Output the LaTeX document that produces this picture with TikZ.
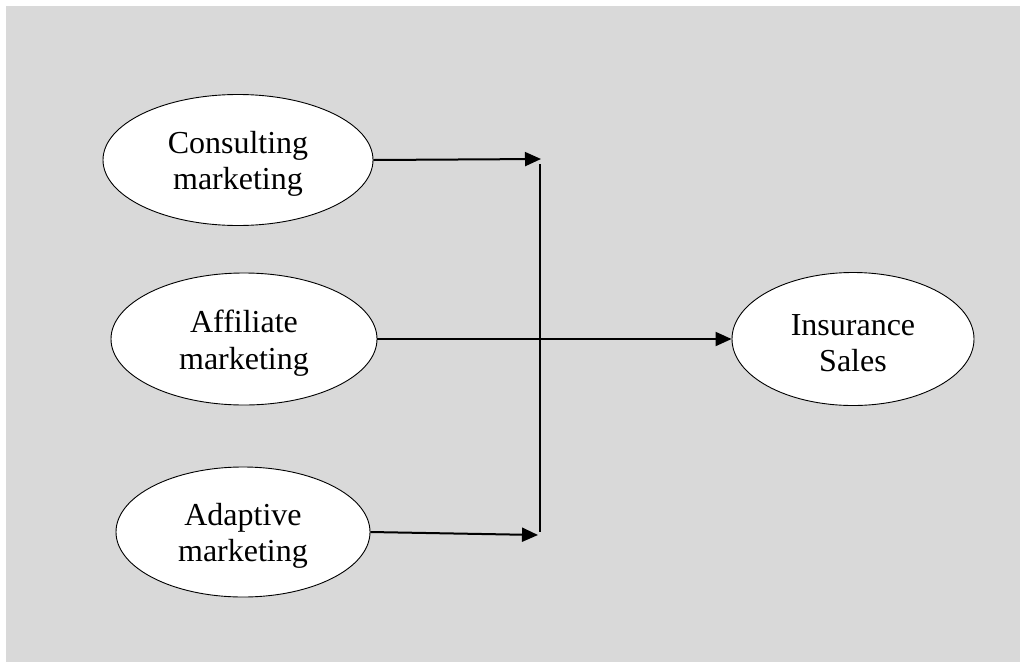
\documentclass[tikz,border=0pt]{standalone}
\usepackage{fontspec}
\setmainfont{Liberation Serif}
\usetikzlibrary{shapes.geometric,arrows.meta}
\definecolor{bggray}{RGB}{217,217,217}
\begin{document}
\begin{tikzpicture}[x=1pt,y=-1pt,
  oval/.style={ellipse,draw=black,line width=0.9pt,fill=white,inner sep=0pt},
  txt/.style={align=center,inner sep=0pt,font=\fontsize{32}{36.5}\selectfont},
  link/.style={line width=2pt,draw=black},
  arr/.style={link,-{Triangle[length=16pt,width=14pt]}}]
\useasboundingbox (0,0) rectangle (1020,662);
\fill[bggray] (6,6) rectangle (1020,662);
\node[oval,minimum width=270pt,minimum height=131pt] (cons) at (238,160) {};
\node[oval,minimum width=266pt,minimum height=132pt] (aff) at (244,339) {};
\node[oval,minimum width=254pt,minimum height=130pt] (adap) at (243,532) {};
\node[oval,minimum width=242pt,minimum height=133pt] (ins) at (853,339) {};
\node[txt] (cons-t) at ([yshift=-4pt]cons.center) {Consulting\\marketing};
\node[txt] (aff-t) at ([yshift=-4pt]aff.center) {Affiliate\\marketing};
\node[txt] (adap-t) at ([yshift=-4pt]adap.center) {Adaptive\\marketing};
\node[txt] (ins-t) at ([yshift=-4pt]ins.center) {Insurance\\Sales};
\coordinate (t1) at (541,159);
\coordinate (t2) at (538,535);
\coordinate (vtop) at (540,164);
\coordinate (vbot) at (540,532);
\draw[arr] (cons.east) -- (t1);
\draw[arr] (adap.east) -- (t2);
\draw[link] (vtop) -- (vbot);
\draw[arr] (aff.east) -- (ins.west);
\end{tikzpicture}
\end{document}
